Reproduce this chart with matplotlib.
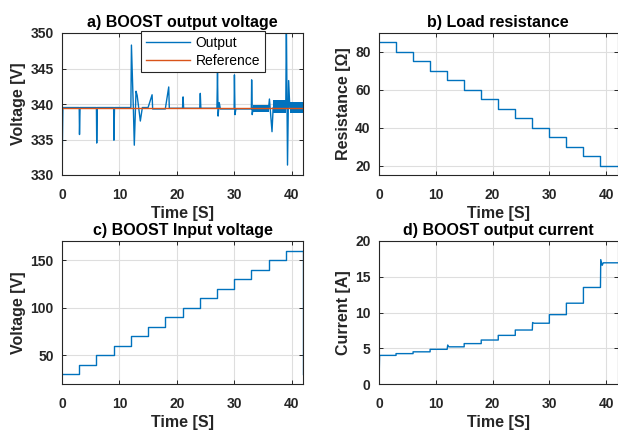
import numpy as np
import matplotlib
matplotlib.use("Agg")
import matplotlib.pyplot as plt

plt.rcParams['font.family'] = ['Liberation Sans', 'DejaVu Sans']
plt.rcParams['font.weight'] = 'bold'
plt.rcParams['axes.labelweight'] = 'bold'
plt.rcParams['axes.titleweight'] = 'bold'

BLUE = '#0072BD'
ORANGE = '#D95319'
DARK = '#262626'

# a) output voltage, key points
t_out = [0, 0.15, 3.0, 3.05, 3.15, 6.0, 6.05, 6.15, 9.0, 9.05, 9.15,
         12.0, 12.1, 12.45, 12.6, 12.9, 13.1, 13.65, 14.0,
         15.0, 15.7, 15.8, 18.0, 18.6, 18.7, 21.0, 21.1, 21.2,
         24.0, 24.1, 24.2, 27.0, 27.1, 27.2, 27.4, 27.6,
         30.0, 30.05, 30.15, 30.3, 33.0, 33.05, 33.15, 33.3,
         36.0, 36.15, 36.6, 36.8, 39.0, 39.1, 39.3, 39.5, 39.7, 42.0]
v_out = [330.0, 339.5, 339.5, 335.7, 339.5, 339.5, 334.5, 339.5, 339.5, 334.9, 339.5,
         339.5, 348.3, 339.0, 334.2, 341.8, 341.2, 337.6, 339.5,
         339.5, 341.3, 339.3, 339.3, 342.4, 339.4, 339.4, 341.0, 339.4,
         339.4, 341.5, 339.4, 339.4, 344.5, 338.3, 340.2, 339.3,
         339.3, 344.1, 338.5, 339.3, 339.3, 343.4, 338.5, 339.4,
         339.4, 340.7, 336.1, 339.5, 339.5, 352.0, 331.4, 343.3, 339.4, 339.4]
# dense ripple bands (start, end, low, high)
band_start = [33.3, 36.8, 39.7]
band_end = [36.0, 39.0, 42.0]
band_low = [338.9, 338.8, 338.7]
band_high = [339.9, 340.6, 340.3]
v_ref = 339.4

# b) load resistance steps
t_steps = [0, 3, 6, 9, 12, 15, 18, 21, 24, 27, 30, 33, 36, 39, 42]
r_load = [85, 80, 75, 70, 65, 60, 55, 50, 45, 40, 35, 30, 25, 20, 20]

# c) input voltage steps
v_in = [30, 40, 50, 60, 70, 80, 90, 100, 110, 120, 130, 140, 150, 160, 160]
v_in_end_t = 41.92
v_in_end_v = 30

# d) output current
t_cur = [0, 0.1, 3.0, 3.0, 6.0, 6.0, 9.0, 9.0, 12.0, 12.1, 12.3, 15.0, 15.0,
         18.0, 18.0, 21.0, 21.0, 24.0, 24.0, 27.0, 27.05, 27.3, 30.0, 30.0,
         33.0, 33.0, 36.0, 36.0, 39.0, 39.05, 39.3, 39.5, 42.0]
i_cur = [0.0, 4.0, 4.0, 4.25, 4.25, 4.5, 4.5, 4.85, 4.85, 5.45, 5.2, 5.2, 5.65,
         5.65, 6.15, 6.15, 6.8, 6.8, 7.55, 7.55, 8.6, 8.5, 8.5, 9.7,
         9.7, 11.3, 11.3, 13.5, 13.5, 17.4, 16.6, 16.95, 16.95]

xticks = [0, 10, 20, 30, 40]

fig = plt.figure(figsize=(6.18, 4.30), dpi=100)
W, H = 618, 430


def make_ax(l, t, r, b):
    return fig.add_axes([l / W, 1 - b / H, (r - l) / W, (b - t) / H])


def style(ax, title, ylabel):
    ax.set_xlim(0, 42)
    ax.set_xticks(xticks)
    ax.grid(True, color='#dedede', linewidth=0.8)
    ax.set_axisbelow(True)
    ax.tick_params(direction='in', top=True, right=True, length=3, width=0.7,
                   colors=DARK, labelsize=10, labelcolor=DARK)
    ax.tick_params(axis='x', pad=9)
    ax.tick_params(axis='y', pad=6)
    for s in ax.spines.values():
        s.set_color(DARK)
        s.set_linewidth(0.8)
    ax.set_title(title, fontsize=11.5, pad=4, color='black')
    ax.set_xlabel('Time [S]', fontsize=11.5, color=DARK, labelpad=3)
    ax.set_ylabel(ylabel, fontsize=11.5, color=DARK, labelpad=3)


ax1 = make_ax(62, 33, 303, 175)
ax2 = make_ax(379, 33, 617.5, 175)
ax3 = make_ax(62, 241, 303, 384)
ax4 = make_ax(379, 241, 617.5, 384)

# a
ax1.plot(t_out, v_out, color=BLUE, lw=1.0, label='Output')
for a, b, lo, hi in zip(band_start, band_end, band_low, band_high):
    ax1.fill_between([a, b], [lo, lo], [hi, hi], color=BLUE, lw=0)
ax1.axhline(v_ref, color=ORANGE, lw=1.0, label='Reference')
ax1.set_ylim(330, 350)
ax1.set_yticks([330, 335, 340, 345, 350])
style(ax1, 'a) BOOST output voltage', 'Voltage [V]')
leg = ax1.legend(loc='upper left', bbox_to_anchor=(0.327, 1.012), fancybox=False,
                 edgecolor=DARK, framealpha=1, fontsize=10, handlelength=3.2,
                 handletextpad=0.4, borderpad=0.35, labelspacing=0.25,
                 borderaxespad=0)
leg.get_frame().set_linewidth(0.8)
for txt in leg.get_texts():
    txt.set_fontweight('normal')

# b
ax2.step(t_steps, r_load, where='post', color=BLUE, lw=1.0)
ax2.set_ylim(15, 90)
ax2.set_yticks([20, 40, 60, 80])
style(ax2, 'b) Load resistance', 'Resistance [Ω]')

# c
ax3.step(t_steps[:-1] + [v_in_end_t], v_in[:-1] + [v_in[-1]], where='post', color=BLUE, lw=1.0)
ax3.plot([v_in_end_t, v_in_end_t], [v_in[-1], v_in_end_v], color=BLUE, lw=1.0)
ax3.set_ylim(20, 170)
ax3.set_yticks([50, 100, 150])
style(ax3, 'c) BOOST Input voltage', 'Voltage [V]')

# d
ax4.plot(t_cur, i_cur, color=BLUE, lw=1.0)
ax4.set_ylim(0, 20)
ax4.set_yticks([0, 5, 10, 15, 20])
style(ax4, 'd) BOOST output current', 'Current [A]')

fig.savefig('out.png', dpi=100)
